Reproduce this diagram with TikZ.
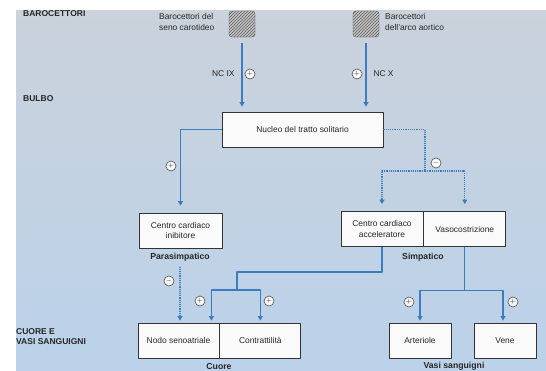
\documentclass[tikz,border=0pt]{standalone}
\usepackage{fontspec}
\setmainfont{Liberation Sans}
\usetikzlibrary{arrows.meta,patterns}
\definecolor{linkblue}{HTML}{3C7DBF}
\definecolor{boxline}{HTML}{333333}
\definecolor{bgtop}{HTML}{CAD2DB}
\definecolor{bgbot}{HTML}{BBD2EA}
\tikzset{
  every picture/.style={line join=round, >={Triangle[length=4.5pt,width=5pt]}},
  every node/.style={font=\fontsize{8.4}{10.5}\selectfont, text=black!85},
  stagebox/.style={draw=boxline, line width=0.8pt, fill=white!90!bgtop, minimum height=35pt, inner sep=1pt, align=center},
  receptor/.style={draw=gray!70!black, rounded corners=3pt, minimum size=26pt, fill=gray!45, postaction={pattern=north east lines, pattern color=gray!70!black}},
  sign/.style={circle, draw=gray!60!black, line width=0.6pt, fill=white!90!bgtop, minimum size=10pt, inner sep=0pt, font=\fontsize{7}{7}\selectfont},
  level/.style={font=\fontsize{8.5}{10}\selectfont\bfseries, align=left, anchor=west, inner sep=1pt},
  caption/.style={font=\fontsize{8.7}{10}\selectfont\bfseries},
  link/.style={linkblue, line width=1.3pt},
  inhib/.style={linkblue, line width=1.3pt, dash pattern=on 1.2pt off 1pt},
}

\begin{document}
\begin{tikzpicture}[x=1pt,y=-1pt]
\useasboundingbox (0,0) rectangle (546,370);
\shade[top color=bgtop, bottom color=bgbot] (16,10) rectangle (546,370);
\node[level] (lbaro) at (22,14) {BAROCETTORI};
\node[level] (lbulbo) at (22,99) {BULBO};
\node[level] (lcuore) at (15,337) {CUORE E\\VASI SANGUIGNI};
\node[receptor] (rcar) at (242,24) {};
\node[receptor] (raor) at (366,24) {};
\node[anchor=west, align=left, inner sep=0pt] (tcar) at (159,22) {Barocettori del\\seno carotideo};
\node[anchor=west, align=left, inner sep=0pt] (taor) at (385,22) {Barocettori\\dell'arco aortico};
\node[stagebox, minimum width=161pt] (nts) at (302.5,129.5) {Nucleo del tratto solitario};
\node[stagebox, minimum width=83pt] (cci) at (180.5,230.5) {Centro cardiaco\\inibitore};
\node[stagebox, minimum width=82pt] (cca) at (382,229) {Centro cardiaco\\acceleratore};
\node[stagebox, minimum width=82pt, anchor=west] (vas) at (cca.east) {Vasocostrizione};
\node[stagebox, minimum width=81pt] (sna) at (178.5,340.5) {Nodo senoatriale};
\node[stagebox, minimum width=81pt, anchor=west] (con) at (sna.east) {Contrattilità};
\node[stagebox, minimum width=62pt] (art) at (420,340.5) {Arteriole};
\node[stagebox, minimum width=62pt] (ven) at (505,340.5) {Vene};
\node[caption] (psym) at (180,257) {Parasimpatico};
\node[caption] (sym) at (423,257) {Simpatico};
\node[caption] (cuore) at (219,366) {Cuore};
\node[caption] (vasi) at (454,366) {Vasi sanguigni};
\node[anchor=east] (ncix) at (238,74) {NC IX};
\node[anchor=west] (ncx) at (370,74) {NC X};
\draw[link,->,shorten <=6pt,shorten >=5pt] (rcar) -- (rcar |- nts.north);
\draw[link,->,shorten <=6pt,shorten >=5pt] (raor) -- (raor |- nts.north);
\draw[link,->,shorten >=7pt] (nts.west) -| (cci.north);
\coordinate (dsplit) at (425,171);
\draw[inhib] (nts.east) -| (dsplit);
\draw[inhib,->,shorten >=7pt] (dsplit) -| (cca.north);
\draw[inhib,->,shorten >=7pt] (dsplit) -| (vas.north);
\draw[inhib,->,shorten <=2pt,shorten >=2pt] (psym.south) -- (psym.south |- sna.north);
\coordinate (hsplit) at (237,290);
\draw[link] (cca.south) -- ++(0,25) -| (hsplit);
\draw[link,->,shorten >=2pt] (hsplit) -| ([xshift=-8pt]sna.north east);
\draw[link,->,shorten >=2pt] (hsplit) -| (con.north);
\path (vas.south) ++(0,43.5) coordinate (vsplit);
\draw[link] (vas.south) -- (vsplit);
\draw[link,->,shorten >=2pt] (vsplit) -| (art.north);
\draw[link,->,shorten >=2pt] (vsplit) -| ([xshift=-2pt]ven.north);
\foreach \name/\x/\y/\s in {s1/250/74/+, s2/357/74/+, s3/171/166/+, s4/436/163/-, s5/169/281/-, s6/200/301/+, s7/269/301/+, s8/409/302/+, s9/513/302/+}
  \node[sign] (\name) at (\x,\y) {$\s$};
\end{tikzpicture}
\end{document}
